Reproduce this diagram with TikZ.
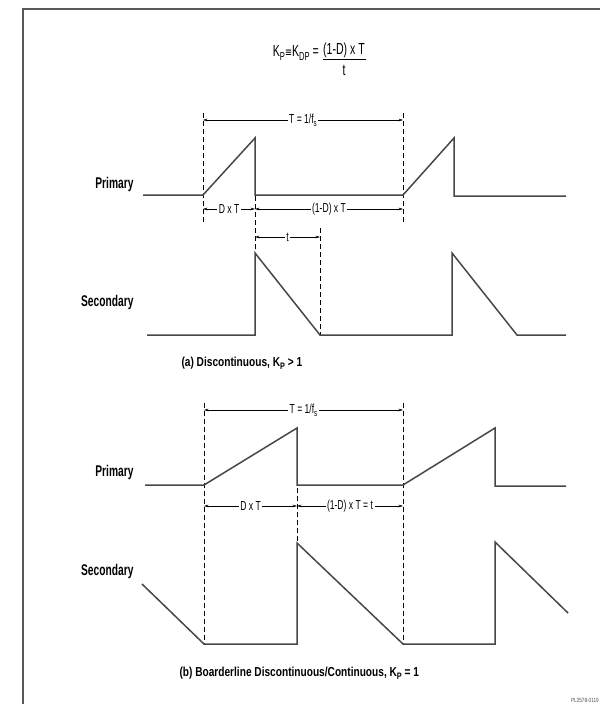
\documentclass[tikz,border=0pt]{standalone}
\usepackage{fontspec}
\setmainfont{Liberation Sans}[FakeStretch=0.78]
\newfontfamily\condfont{Liberation Sans}[FakeStretch=0.66]
\newfontfamily\symfont{DejaVu Sans}[FakeStretch=0.7]
\usetikzlibrary{arrows.meta}
\newcommand{\lsub}[1]{\raisebox{-0.45ex}{\scalebox{0.72}{#1}}}
\tikzset{
  wave/.style={line width=1.5pt, draw=black!72, line join=miter},
  guide/.style={line width=0.6pt, dash pattern=on 5pt off 3pt},
  dim/.style={line width=0.6pt, {Stealth[length=4.5pt,width=2.6pt]}-{Stealth[length=4.5pt,width=2.6pt]}},
  dimlabel/.style={fill=white, inner sep=1.5pt, font=\condfont\fontsize{13}{14}\selectfont},
  sig/.style={font=\condfont\bfseries\fontsize{15.5}{16}\selectfont, anchor=east},
  caption/.style={font=\bfseries\fontsize{13}{14}\selectfont, anchor=west},
  formula/.style={font=\condfont\fontsize{16}{17}\selectfont},
  frame/.style={line width=1.4pt, draw=black!65}
}
\begin{document}
\begin{tikzpicture}[x=1pt,y=-1pt]
\useasboundingbox (0,0) rectangle (600,704);
% frame
\draw[frame] (23,704) -- (23,9) -- (600,9);

% formula
\node[formula, anchor=east, inner sep=0pt] (kp) at (319,53)
  {K\lsub{P}{\symfont\fontsize{12}{13}\selectfont ≡}K\lsub{DP} =};
\node[formula, inner sep=1pt] (num) at (344,50) {(1-D) x T};
\node[formula, inner sep=1pt] (den) at (344,70) {t};
\coordinate (barL) at (323,59);
\coordinate (barR) at (366,59);
\draw[line width=1pt] (barL) -- (barR);

% ---------------- panel (a) ----------------
\node[sig] (pa) at (137,184) {Primary};
\node[sig] (sa) at (137,302) {Secondary};

% guides
\draw[guide] (203,113) -- (203,224);
\draw[guide] (403,113) -- (403,224);
\draw[guide] (255,196) -- (255,252);
\draw[guide] (320,228) -- (320,335);

% dimension arrows
\coordinate (aT1) at (203,120); \coordinate (aT2) at (403,120);
\draw[dim] (aT1) -- node[dimlabel] (aTl) {T = 1/f\lsub{s}} (aT2);
\coordinate (aD1) at (203,209); \coordinate (aD2) at (255,209); \coordinate (aD3) at (403,209);
\draw[dim] (aD1) -- node[dimlabel] (aDl) {D x T} (aD2);
\draw[dim] (aD2) -- node[dimlabel] (aEl) {(1-D) x T} (aD3);
\coordinate (at1) at (255,237); \coordinate (at2) at (320,237);
\draw[dim] (at1) -- node[dimlabel] (atl) {t} (at2);

% waveforms
\draw[wave] (143,195) -- (203,195) -- (255,138) -- (255,195) -- (403,195) -- (454,138) -- (454,196) -- (566,196);
\draw[wave] (147,335) -- (255,335) -- (255,253) -- (320,335) -- (452,335) -- (452,253) -- (517,335) -- (566,335);

\node[caption] (ca) at (178,363) {(a) Discontinuous, K\lsub{P} > 1};

% ---------------- panel (b) ----------------
\node[sig] (pb) at (137,472) {Primary};
\node[sig] (sb) at (137,571) {Secondary};

\draw[guide] (204,403) -- (204,644);
\draw[guide] (403,403) -- (403,644);
\draw[guide] (297,488) -- (297,542);

\coordinate (bT1) at (204,410); \coordinate (bT2) at (403,410);
\draw[dim] (bT1) -- node[dimlabel] (bTl) {T = 1/f\lsub{s}} (bT2);
\coordinate (bD1) at (204,506); \coordinate (bD2) at (297,506); \coordinate (bD3) at (403,506);
\draw[dim] (bD1) -- node[dimlabel] (bDl) {D x T} (bD2);
\draw[dim] (bD2) -- node[dimlabel] (bEl) {(1-D) x T = t} (bD3);

\draw[wave] (145,485) -- (204,485) -- (297,428) -- (297,485) -- (403,485) -- (495,428) -- (495,486) -- (566,486);
\draw[wave] (142,584) -- (204,644) -- (297,644) -- (297,543) -- (403,644) -- (495,644) -- (495,542) -- (568,613);

\node[caption] (cb) at (176,673) {(b) Boarderline Discontinuous/Continuous, K\lsub{P} = 1};

\node[anchor=east, font=\fontsize{6}{7}\selectfont, text=black!70, inner sep=0pt] (id) at (599,700) {PL2578-0119};
\end{tikzpicture}
\end{document}
